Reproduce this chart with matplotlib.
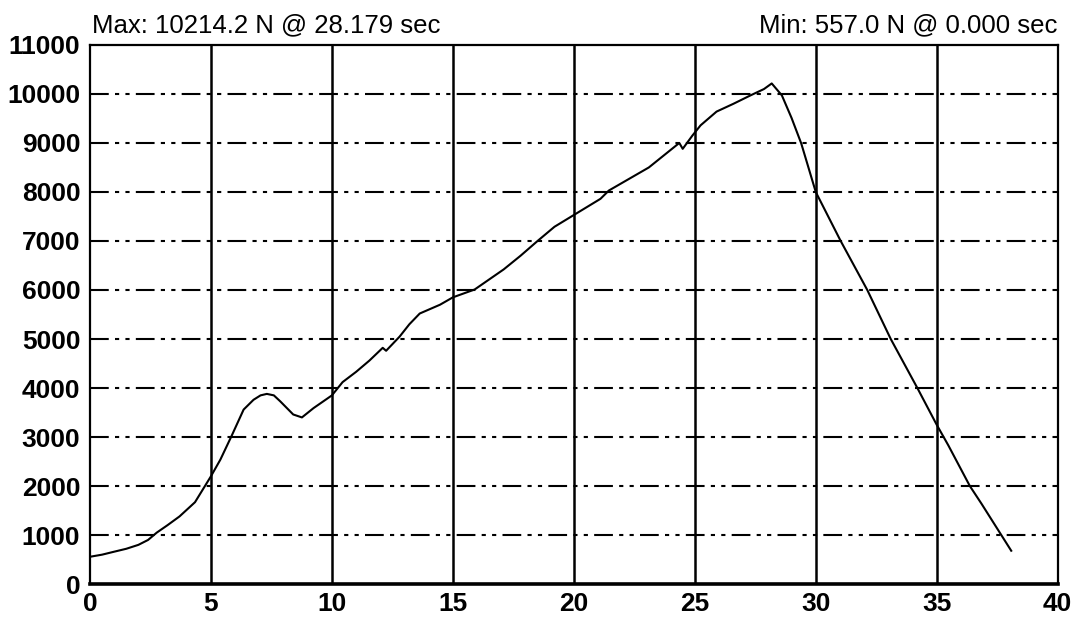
import matplotlib
matplotlib.use("Agg")
import matplotlib.pyplot as plt

# Data
time_s = [0.0, 0.5, 0.97, 1.5, 2.0, 2.4, 2.76, 3.2, 3.7, 4.34, 5.0, 5.39, 5.86,
          6.35, 6.76, 7.05, 7.31, 7.6, 7.86, 8.4, 8.76, 9.24, 10.0, 10.44,
          11.0, 11.55, 12.1, 12.24, 12.8, 13.2, 13.63, 14.47, 15.0, 15.9, 17.1,
          17.8, 18.5, 19.2, 20.0, 21.1, 21.45, 23.1, 24.36, 24.5, 24.9, 25.24,
          25.9, 26.6, 27.3, 27.86, 28.18, 28.6, 29.0, 29.4, 30.0, 31.03, 32.13,
          33.1, 34.2, 35.0, 35.48, 36.37, 36.85, 37.67, 38.08]
force_N = [557, 600, 657, 720, 800, 900, 1050, 1200, 1380, 1670, 2200, 2540,
           3030, 3560, 3760, 3850, 3880, 3850, 3730, 3460, 3400, 3590, 3850,
           4120, 4330, 4560, 4820, 4760, 5050, 5300, 5520, 5700, 5850, 6010,
           6420, 6700, 7000, 7290, 7530, 7860, 8030, 8500, 9000, 8880, 9150,
           9360, 9640, 9800, 9970, 10100, 10214, 9970, 9510, 8990, 8000, 7000,
           6000, 5000, 4000, 3250, 2830, 2000, 1640, 1000, 680]
x_ticks = list(range(0, 41, 5))
y_ticks = list(range(0, 11001, 1000))
max_label = "Max: 10214.2 N @ 28.179 sec"
min_label = "Min: 557.0 N @ 0.000 sec"

plt.rcParams['font.family'] = ['Liberation Sans', 'DejaVu Sans']

fig = plt.figure(figsize=(10.74, 6.24), dpi=100)
ax = fig.add_axes([0.0838, 0.064, 0.901, 0.864])

ax.set_xlim(0, 40)
ax.set_ylim(0, 11000)
ax.set_xticks(x_ticks)
ax.set_yticks(y_ticks)
ax.tick_params(length=0, labelsize=19)
ax.tick_params(axis='y', pad=7)
ax.tick_params(axis='x', pad=6)
for lbl in ax.get_xticklabels() + ax.get_yticklabels():
    lbl.set_fontweight('bold')

for xv in x_ticks[1:-1]:
    ax.axvline(xv, color='black', lw=1.8, zorder=1)
for yv in y_ticks[1:-1]:
    ax.axhline(yv, color='black', lw=1.5, linestyle=(0, (9, 3, 2, 3, 2, 3)),
               zorder=1)

ax.plot(time_s, force_N, color='black', lw=1.5, zorder=3)

for s in ax.spines.values():
    s.set_color('black')
    s.set_linewidth(1.6)
ax.spines['bottom'].set_linewidth(2.6)

ax.text(0.002, 1.014, max_label, transform=ax.transAxes, ha='left', va='bottom',
        fontsize=18.5)
ax.text(1.0, 1.014, min_label, transform=ax.transAxes, ha='right', va='bottom',
        fontsize=18.5)

fig.savefig("out.png", dpi=100, facecolor='white')
